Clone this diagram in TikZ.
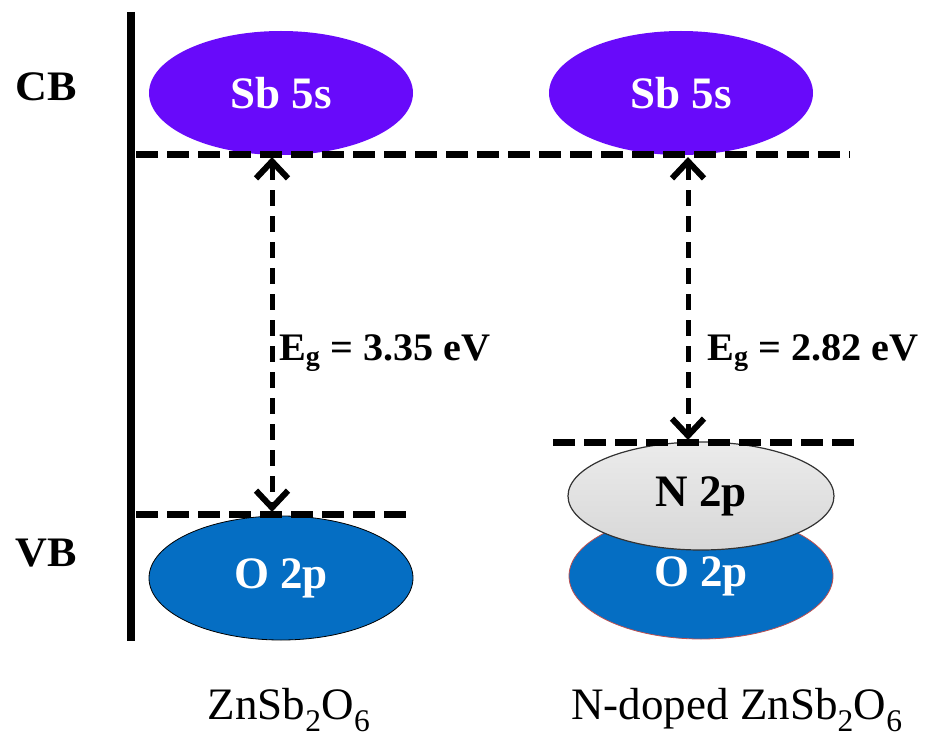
\documentclass[tikz,border=0pt]{standalone}
\usepackage{fontspec}
\setmainfont{Liberation Serif}
\usetikzlibrary{shapes.geometric,arrows.meta}
\definecolor{sbpurple}{RGB}{104,10,250}
\definecolor{oblue}{RGB}{5,110,195}
\definecolor{ngray}{RGB}{222,222,222}
\definecolor{redrim}{RGB}{190,80,80}
\begin{document}
\begin{tikzpicture}[x=1pt,y=-1pt,
  orb/.style={ellipse, inner sep=0pt, minimum width=264pt, minimum height=124pt,
    font=\fontsize{45}{48}\selectfont\bfseries, text=white},
  bandlab/.style={font=\fontsize{42}{46}\selectfont\bfseries},
  eglab/.style={anchor=base west, inner sep=0pt, font=\fontsize{39}{44}\selectfont\bfseries},
  matlab/.style={anchor=base, inner sep=0pt, font=\fontsize{45}{50}\selectfont},
  level/.style={line width=7pt, dash pattern=on 22pt off 9pt},
  barb/.tip={Straight Barb[length=17pt,width=32pt,line width=6pt]},
  gap/.style={line width=5pt, dash pattern=on 16pt off 10pt, barb-barb},
]
\useasboundingbox (0,0) rectangle (932,738);

% axis
\coordinate (axT) at (131,12);
\coordinate (axB) at (131,641);
\draw[line width=8pt] (axT) -- (axB);

% band labels
\node[bandlab] (cb) at (46,87) {\scalebox{1.05}[1]{CB}};
\node[bandlab] (vb) at (46,553) {\scalebox{1.05}[1]{VB}};

% orbitals
\node[orb, fill=sbpurple] (sbL) at (281,93) {Sb 5s};
\node[orb, fill=sbpurple] (sbR) at (681,93) {Sb 5s};
\node[orb, fill=oblue, draw=black, line width=0.8pt] (oL) at (281,578) {O 2p};
\node[orb, fill=oblue, draw=redrim, line width=0.8pt, minimum height=126pt] (oR) at (701,576) {\raisebox{-14pt}{O 2p}};
\node[orb, top color=ngray!60, bottom color=ngray!97!black, draw=black!80, line width=1.2pt,
  minimum width=266pt, minimum height=108pt, text=black] (nR) at (701,496) {N 2p};

% levels
\coordinate (cbA) at (136,155);
\coordinate (cbB) at (850,155);
\coordinate (vbLA) at (136,514);
\coordinate (vbLB) at (412,514);
\coordinate (vbRA) at (553,442);
\coordinate (vbRB) at (862,442);
\draw[level] (cbA) -- (cbB);
\draw[level] (vbLA) -- (vbLB);
\draw[level] (vbRA) -- (vbRB);

% gaps
\coordinate (gLt) at (272,157);
\coordinate (gLb) at (272,512);
\coordinate (gRt) at (688,157);
\coordinate (gRb) at (688,440);
\draw[gap] (gLt) -- (gLb);
\draw[gap] (gRt) -- (gRb);

\node[eglab] (egL) at (279,360) {\scalebox{1.03}[1]{E\textsubscript{g} = 3.35 eV}};
\node[eglab] (egR) at (707,360) {\scalebox{1.03}[1]{E\textsubscript{g} = 2.82 eV}};

% materials
\node[matlab] (m1) at (289,719) {ZnSb\textsubscript{2}O\textsubscript{6}};
\node[matlab] (m2) at (737,719) {N-doped ZnSb\textsubscript{2}O\textsubscript{6}};
\end{tikzpicture}
\end{document}
